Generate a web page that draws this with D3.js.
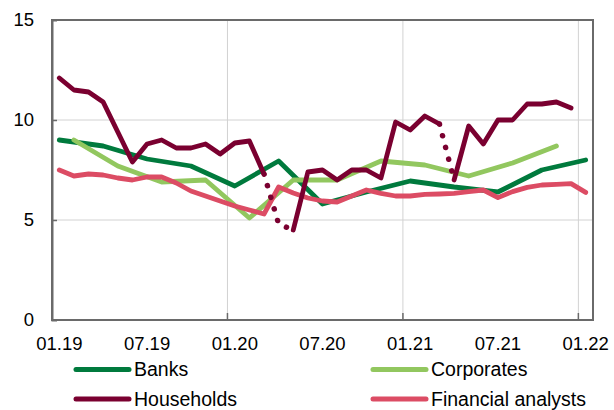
<!DOCTYPE html>
<html>
<head>
<meta charset="utf-8">
<script src="https://cdn.jsdelivr.net/npm/d3@7/dist/d3.min.js"></script>
<style>
  html, body { margin: 0; padding: 0; background: #fff; }
  svg { display: block; font-family: "Liberation Sans", Arial, sans-serif; }
</style>
</head>
<body>
<svg id="chart" width="614" height="410"></svg>
<script>
// ---------- data ----------
const months = ["01.19","02.19","03.19","04.19","05.19","06.19","07.19","08.19","09.19","10.19","11.19","12.19",
                "01.20","02.20","03.20","04.20","05.20","06.20","07.20","08.20","09.20","10.20","11.20","12.20",
                "01.21","02.21","03.21","04.21","05.21","06.21","07.21","08.21","09.21","10.21","11.21","12.21",
                "01.22"];
const tickLabels = ["01.19","07.19","01.20","07.20","01.21","07.21","01.22"];
const gridMonths = ["01.20","01.21","01.22"];
const yTicks = [0, 5, 10, 15];

const banksMonths = ["01.19","04.19","07.19","10.19","01.20","04.20","07.20","10.20","01.21","04.21","07.21","10.21","01.22"];
const banksValues = [9.0, 8.7, 8.05, 7.7, 6.7, 7.95, 5.8, 6.4, 6.95, 6.65, 6.4, 7.5, 8.0];

const corporatesMonths = ["02.19","05.19","08.19","11.19","02.20","05.20","08.20","11.20","02.21","05.21","08.21","11.21"];
const corporatesValues = [9.0, 7.7, 6.9, 7.0, 5.1, 7.0, 7.0, 7.95, 7.75, 7.2, 7.85, 8.7];

const householdsMonths = months.slice(0, 36);
const householdsValues = [12.1, 11.5, 11.4, 10.9, 9.4, 7.9, 8.8, 9.0, 8.6, 8.6, 8.8, 8.3,
                          8.85, 8.95, 7.3, 4.8, 4.5, 7.4, 7.5, 7.0, 7.5, 7.5, 7.1, 9.9,
                          9.5, 10.2, 9.8, 7.0, 9.7, 8.8, 10.0, 10.0, 10.8, 10.8, 10.9, 10.6];
// segments starting at these months are drawn dotted
const householdsDottedFrom = ["03.20","04.20","03.21"];

const analystsMonths = months;
const analystsValues = [7.5, 7.2, 7.3, 7.25, 7.1, 7.0, 7.15, 7.15, 6.85, 6.45, 6.2, 5.95,
                        5.7, 5.5, 5.3, 6.65, 6.35, 6.1, 5.95, 5.9, 6.2, 6.5, 6.33, 6.2,
                        6.2, 6.28, 6.3, 6.33, 6.42, 6.5, 6.12, 6.42, 6.63, 6.75, 6.78, 6.82,
                        6.38];

const seriesNames = ["Banks", "Corporates", "Households", "Financial analysts"];
const seriesColors = ["#007a3d", "#92c75f", "#7a0030", "#dc4c64"];

// ---------- layout ----------
const svg = d3.select("#chart");
const plot = { left: 52, right: 593, top: 20, bottom: 320 };

const x = d3.scaleBand().domain(months).range([plot.left, plot.right]).paddingInner(0).paddingOuter(0);
const xc = m => x(m) + x.bandwidth() / 2;
const y = d3.scaleLinear().domain([0, 15]).range([plot.bottom, plot.top]);

// gridlines
const grid = svg.append("g");
grid.selectAll("line.h").data([5, 10]).join("line")
  .attr("x1", plot.left).attr("x2", plot.right)
  .attr("y1", d => y(d)).attr("y2", d => y(d))
  .attr("stroke", "#d2d2d2").attr("stroke-width", 1);
grid.selectAll("line.v").data(gridMonths).join("line")
  .attr("x1", d => x(d)).attr("x2", d => x(d))
  .attr("y1", plot.top).attr("y2", plot.bottom)
  .attr("stroke", "#d2d2d2").attr("stroke-width", 1);

// frame
svg.append("rect")
  .attr("x", plot.left).attr("y", plot.top)
  .attr("width", plot.right - plot.left).attr("height", plot.bottom - plot.top)
  .attr("fill", "none").attr("stroke", "#6a6a6a").attr("stroke-width", 2);

// bottom inward ticks at year boundaries
svg.append("g").selectAll("line").data(gridMonths).join("line")
  .attr("x1", d => x(d)).attr("x2", d => x(d))
  .attr("y1", plot.bottom).attr("y2", plot.bottom - 7)
  .attr("stroke", "#6a6a6a").attr("stroke-width", 1.5);

// y axis
const yAxis = svg.append("g").attr("transform", `translate(${plot.left},0)`)
  .call(d3.axisLeft(y).tickValues(yTicks).tickSize(-5).tickPadding(18).tickFormat(d3.format("d")));
yAxis.select(".domain").attr("stroke", "#6a6a6a").attr("stroke-width", 2);
yAxis.selectAll(".tick line").attr("stroke", "#6a6a6a").attr("stroke-width", 1.5)
  .filter(d => d === 0 || d === 15).remove();
yAxis.selectAll("text").attr("font-size", "18.5px").attr("fill", "#000")
  .attr("font-family", "'Liberation Sans', Arial, sans-serif");

// x axis labels
const xAxis = svg.append("g").attr("transform", `translate(0,${plot.bottom})`)
  .call(d3.axisBottom(x).tickValues(tickLabels).tickSize(0).tickPadding(17));
xAxis.select(".domain").remove();
xAxis.selectAll("text").attr("font-size", "18.5px").attr("fill", "#000")
  .attr("font-family", "'Liberation Sans', Arial, sans-serif");

// ---------- lines ----------
const line = d3.line().x(d => xc(d.m)).y(d => y(d.v));
const zip = (ms, vs) => ms.map((m, i) => ({ m, v: vs[i] }));

const lineW = 4.8;
function drawSolid(data, color) {
  svg.append("path").datum(data)
    .attr("d", line).attr("fill", "none").attr("stroke", color)
    .attr("stroke-width", lineW).attr("stroke-linejoin", "round").attr("stroke-linecap", "round");
}

drawSolid(zip(banksMonths, banksValues), seriesColors[0]);
drawSolid(zip(corporatesMonths, corporatesValues), seriesColors[1]);
drawSolid(zip(analystsMonths, analystsValues), seriesColors[3]);

// households: split into solid and dotted runs
const hh = zip(householdsMonths, householdsValues);
const runs = [];
for (let i = 0; i < hh.length - 1; i++) {
  const dotted = householdsDottedFrom.includes(hh[i].m);
  const last = runs[runs.length - 1];
  if (last && last.dotted === dotted) last.pts.push(hh[i + 1]);
  else runs.push({ dotted, pts: [hh[i], hh[i + 1]] });
}
runs.forEach(r => {
  const p = svg.append("path").datum(r.pts)
    .attr("d", line).attr("fill", "none").attr("stroke", seriesColors[2])
    .attr("stroke-linejoin", "round").attr("stroke-linecap", "round");
  if (r.dotted) p.attr("stroke-width", 5.5).attr("stroke-dasharray", "0.1 12");
  else p.attr("stroke-width", lineW);
});

// ---------- legend ----------
const legendCols = [76, 373];
const legendRows = [369.5, 399];
const legend = svg.append("g");
seriesNames.forEach((name, i) => {
  const cx = legendCols[i % 2], cy = legendRows[Math.floor(i / 2)];
  legend.append("line")
    .attr("x1", cx).attr("x2", cx + 53).attr("y1", cy).attr("y2", cy)
    .attr("stroke", seriesColors[i]).attr("stroke-width", 5).attr("stroke-linecap", "round");
  legend.append("text")
    .attr("x", cx + 58).attr("y", cy + 6.5)
    .attr("font-size", "19.5px").attr("fill", "#000")
    .text(name);
});
</script>
</body>
</html>
